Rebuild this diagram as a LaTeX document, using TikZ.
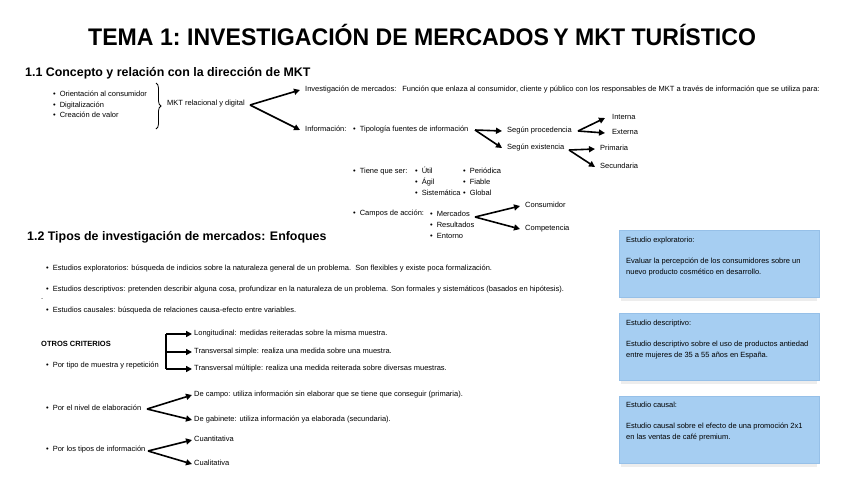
\documentclass[tikz,border=0pt]{standalone}
\usepackage{fontspec}
\setmainfont{Liberation Sans}
\usetikzlibrary{arrows.meta,decorations.pathreplacing}
\definecolor{boxfill}{RGB}{166,206,242}
\definecolor{boxline}{RGB}{150,192,232}
\newcommand\mybul{\textbullet\hspace{4pt}}
\begin{document}
\begin{tikzpicture}[x=1pt,y=-1pt,
 txt/.style={anchor=west,inner sep=0pt,text height=5.5pt,text depth=1.6pt,font=\fontsize{7.5}{9}\selectfont},
 head/.style={anchor=west,inner sep=0pt,font=\fontsize{12.4}{14}\selectfont\bfseries},
 arr/.style={line width=1.6pt,-{Triangle[length=6pt,width=6pt]}},
 box/.style={draw=boxline,fill=boxfill,line width=0.5pt,minimum width=200pt,minimum height=67pt,anchor=north west,inner sep=0pt},
 shade/.style={fill=black!7,draw=none},
]
\useasboundingbox (0,0) rectangle (848,477);
\fill[white] (0,0) rectangle (848,477);

% title
\node[anchor=west,inner sep=0pt,font=\fontsize{24}{28}\selectfont\bfseries] (title) at (88,35) {\scalebox{0.962}[1]{TEMA 1:\hspace{-2pt} INVESTIGACIÓN DE MERCADOS\hspace{-2pt} Y MKT TURÍSTICO}};

% 1.1
\node[head] (h11) at (25,73) {1.1 Concepto y relación con la dirección de MKT};
\node[txt] (b1) at (53,95) {\mybul Orientación al consumidor};
\node[txt] (b2) at (53,105.5) {\mybul Digitalización};
\node[txt] (b3) at (53,116) {\mybul Creación de valor};
\draw[line width=0.8pt,decorate,decoration={brace,amplitude=5pt}] (156,83) -- (156,129);
\node[txt] (mkt) at (167,104) {MKT relacional y digital};
\coordinate (f1) at (250,105);
\node[txt] (inv) at (305,90) {Investigación de mercados:\hspace{3pt} Función que enlaza al consumidor, cliente y público con los responsables de MKT a través de información que se utiliza para:};
\node[txt] (inf) at (305,130) {Información:};
\draw[arr] (f1) -- ([xshift=-5pt]inv.west);
\draw[arr] (f1) -- ([xshift=-5pt]inf.west);

\node[txt] (tip) at (353,130) {\mybul Tipología fuentes de información};
\node[txt] (proc) at (507,131) {Según procedencia};
\node[txt] (exis) at (507,148) {Según existencia};
\coordinate (f2) at (475,130);
\draw[arr] (f2) -- ([xshift=-5pt]proc.west);
\draw[arr] (f2) -- ([xshift=-5pt]exis.west);

\node[txt] (intn) at (612,118) {Interna};
\node[txt] (extn) at (612,133) {Externa};
\coordinate (f3) at (578,131);
\draw[arr] (f3) -- ([xshift=-7pt]intn.west);
\draw[arr] (f3) -- ([xshift=-7pt]extn.west);

\node[txt] (prim) at (600,149) {Primaria};
\node[txt] (secu) at (600,167) {Secundaria};
\coordinate (f4) at (569,150);
\draw[arr] (f4) -- ([xshift=-5pt]prim.west);
\draw[arr] (f4) -- ([xshift=-5pt]secu.west);

\node[txt] (tqs) at (353,172) {\mybul Tiene que ser:};
\node[txt] (util) at (415,172) {\mybul Útil};
\node[txt] (agil) at (415,183) {\mybul Ágil};
\node[txt] (sist) at (415,194) {\mybul Sistemática};
\node[txt] (peri) at (463,172) {\mybul Periódica};
\node[txt] (fiab) at (463,183) {\mybul Fiable};
\node[txt] (glob) at (463,194) {\mybul Global};

\node[txt] (camp) at (353,214) {\mybul Campos de acción:};
\node[txt] (merc) at (430,215) {\mybul Mercados};
\node[txt] (resu) at (430,226) {\mybul Resultados};
\node[txt] (ento) at (430,237) {\mybul Entorno};
\node[txt] (cons) at (525,206) {Consumidor};
\node[txt] (comp) at (525,229) {Competencia};
\coordinate (f5) at (475,217);
\draw[arr] (f5) -- ([xshift=-5pt]cons.west);
\draw[arr] (f5) -- ([xshift=-5pt]comp.west);

% 1.2
\node[head] (h12) at (27,237) {1.2 Tipos de investigación de mercados: Enfoques};
\node[txt] (e1) at (46,269) {\mybul Estudios exploratorios: búsqueda de indicios sobre la naturaleza general de un problema.\ \ Son flexibles y existe poca formalización.};
\node[txt] (e2) at (46,290) {\mybul Estudios descriptivos: pretenden describir alguna cosa, profundizar en la naturaleza de un problema. Son formales y sistemáticos (basados en hipótesis).};
\node[txt] (dot) at (41,298) {.};
\node[txt] (e3) at (46,311) {\mybul Estudios causales: búsqueda de relaciones causa-efecto entre variables.};

\node[anchor=west,inner sep=0pt,font=\fontsize{7.5}{9}\selectfont\bfseries] (otros) at (41,344) {OTROS CRITERIOS};
\node[txt] (c1) at (46,366) {\mybul Por tipo de muestra y repetición};
\node[txt] (lon) at (194,334) {Longitudinal: medidas reiteradas sobre la misma muestra.};
\node[txt] (tsi) at (194,352) {Transversal simple: realiza una medida sobre una muestra.};
\node[txt] (tmu) at (194,369) {Transversal múltiple: realiza una medida reiterada sobre diversas muestras.};
\coordinate (v1) at (166,334);
\coordinate (v2) at (166,352);
\coordinate (v3) at (166,369);
\draw[line width=1.6pt] (v1) -- (v3);
\draw[arr] (v1) -- ([xshift=-2pt]lon.west);
\draw[arr] (v2) -- ([xshift=-2pt]tsi.west);
\draw[arr] (v3) -- ([xshift=-2pt]tmu.west);

\node[txt] (c2) at (46,409) {\mybul Por el nivel de elaboración};
\node[txt] (dca) at (194,395) {De campo: utiliza información sin elaborar que se tiene que conseguir (primaria).};
\node[txt] (dga) at (194,420) {De gabinete: utiliza información ya elaborada (secundaria).};
\coordinate (f6) at (147,409);
\draw[arr] (f6) -- ([xshift=-2pt]dca.west);
\draw[arr] (f6) -- ([xshift=-2pt]dga.west);

\node[txt] (c3) at (46,450) {\mybul Por los tipos de información};
\node[txt] (cuan) at (194,440) {Cuantitativa};
\node[txt] (cual) at (194,464) {Cualitativa};
\coordinate (f7) at (148,451);
\draw[arr] (f7) -- ([xshift=-2pt]cuan.west);
\draw[arr] (f7) -- ([xshift=-2pt]cual.west);

% boxes
\fill[shade] (621,297) rectangle (817,300.5);
\node[box] (bx1) at (619,230) {};
\node[txt] (bx1t) at (626,241) {Estudio exploratorio:};
\node[txt] (bx1a) at (626,262) {Evaluar la percepción de los consumidores sobre un};
\node[txt] (bx1b) at (626,273) {nuevo producto cosmético en desarrollo.};

\fill[shade] (621,380) rectangle (817,383.5);
\node[box] (bx2) at (619,313) {};
\node[txt] (bx2t) at (626,324) {Estudio descriptivo:};
\node[txt] (bx2a) at (626,345) {Estudio descriptivo sobre el uso de productos antiedad};
\node[txt] (bx2b) at (626,356) {entre mujeres de 35 a 55 años en España.};

\fill[shade] (621,463) rectangle (817,466.5);
\node[box] (bx3) at (619,396) {};
\node[txt] (bx3t) at (626,406) {Estudio causal:};
\node[txt] (bx3a) at (626,427) {Estudio causal sobre el efecto de una promoción 2x1};
\node[txt] (bx3b) at (626,438) {en las ventas de café premium.};
\end{tikzpicture}
\end{document}
